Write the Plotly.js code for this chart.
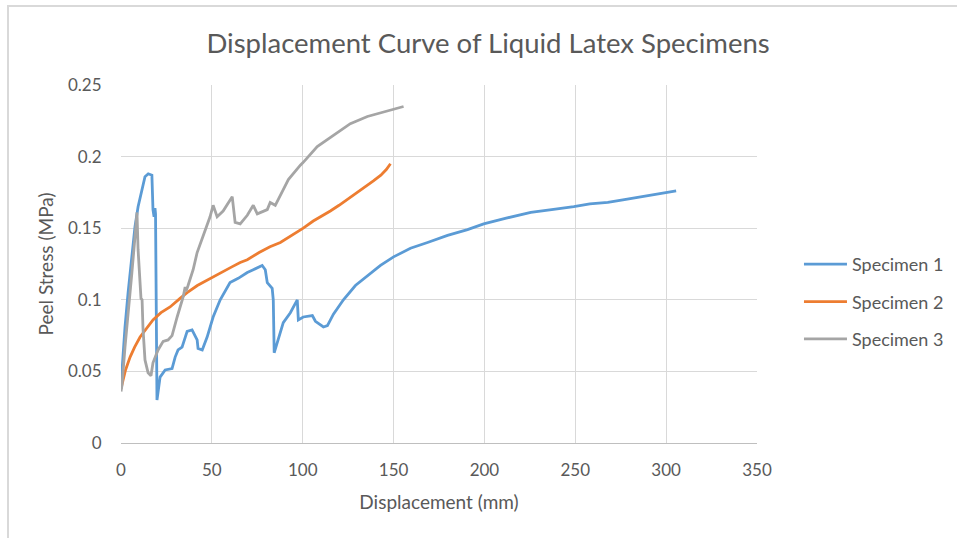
<!DOCTYPE html>
<html>
<head>
<meta charset="utf-8">
<script src="https://cdn.plot.ly/plotly-3.0.1.min.js"></script>
<style>
  html, body { margin: 0; padding: 0; background: #fff; }
  #wrap { position: relative; width: 957px; height: 538px; }
  #chart { width: 957px; height: 538px; }
  #frame { position: absolute; left: 7px; top: 5px; width: 950px; height: 533px;
           border-left: 2px solid #d9d9d9; border-top: 2px solid #d9d9d9;
           box-sizing: border-box; pointer-events: none; }
</style>
</head>
<body>
<div id="wrap">
  <div id="chart"></div>
  <div id="frame"></div>
</div>
<script>
const seriesNames = ["Specimen 1", "Specimen 2", "Specimen 3"];

const x1 = [0, 1, 2.2, 3.9, 6, 7.7, 9.4, 11.6, 13.2, 15, 17, 17.6, 18.2, 18.7, 19, 19.8, 21.5, 24.3, 28.1, 29.8, 31.4, 33.6, 36.4, 39.1, 41.9, 42.4, 44.7, 47.4, 50.7, 54.6, 60, 64.5, 69.5, 72.8, 77.7, 79.4, 80.5, 83.2, 83.8, 84.3, 86, 89.3, 93.2, 97, 97.6, 100.3, 105.3, 107, 111.4, 113.6, 116.9, 122.4, 129, 135.6, 142.8, 150, 159.3, 168.7, 179.7, 190.7, 199.6, 212, 225.5, 237, 249.2, 258, 267.9, 277, 286, 296, 305.5];
const y1 = [0.04, 0.06, 0.081, 0.105, 0.128, 0.151, 0.165, 0.177, 0.186, 0.188, 0.187, 0.163, 0.158, 0.164, 0.160, 0.030, 0.046, 0.051, 0.052, 0.060, 0.065, 0.067, 0.078, 0.079, 0.072, 0.066, 0.065, 0.074, 0.088, 0.100, 0.112, 0.115, 0.119, 0.121, 0.124, 0.121, 0.112, 0.108, 0.100, 0.063, 0.070, 0.084, 0.091, 0.100, 0.086, 0.088, 0.089, 0.085, 0.081, 0.082, 0.090, 0.100, 0.110, 0.117, 0.124, 0.130, 0.136, 0.140, 0.145, 0.149, 0.153, 0.157, 0.161, 0.163, 0.165, 0.167, 0.168, 0.170, 0.172, 0.174, 0.176];

const x2 = [0, 1.1, 2.5, 5, 7.5, 10.5, 14, 17.6, 22, 27, 32.5, 36.4, 42, 49, 55, 61, 65.6, 69.5, 76, 82, 87.7, 94, 100.3, 105.8, 110, 115.2, 120, 124.6, 127.9, 132, 135.6, 138.9, 143, 146, 148.3];
const y2 = [0.038, 0.044, 0.051, 0.060, 0.067, 0.074, 0.080, 0.086, 0.091, 0.095, 0.101, 0.105, 0.110, 0.115, 0.119, 0.123, 0.126, 0.128, 0.133, 0.137, 0.140, 0.145, 0.150, 0.155, 0.158, 0.162, 0.166, 0.170, 0.173, 0.177, 0.180, 0.183, 0.187, 0.191, 0.195];

const x3 = [0, 0.5, 2.2, 3.9, 6, 7.7, 8.8, 9.4, 10.5, 11, 11.6, 12.1, 13.2, 14.9, 16.5, 17.6, 20.4, 23.2, 25.9, 28.1, 30.9, 32.5, 34.2, 35.3, 35.8, 36.9, 39.7, 41.9, 45.2, 49, 50.7, 52.9, 56.2, 60.1, 61.2, 62.8, 65.6, 69.5, 72.8, 75, 80.5, 82.1, 84.9, 89.3, 92.1, 98.7, 100.3, 108, 116.9, 126.2, 135.6, 144.4, 150, 155.5];
const y3 = [0.036, 0.040, 0.067, 0.093, 0.119, 0.144, 0.161, 0.135, 0.105, 0.101, 0.100, 0.080, 0.058, 0.049, 0.047, 0.056, 0.065, 0.071, 0.072, 0.075, 0.088, 0.095, 0.102, 0.109, 0.106, 0.110, 0.121, 0.133, 0.145, 0.158, 0.166, 0.158, 0.162, 0.170, 0.172, 0.154, 0.153, 0.159, 0.166, 0.160, 0.163, 0.168, 0.166, 0.177, 0.184, 0.194, 0.196, 0.207, 0.215, 0.223, 0.228, 0.231, 0.233, 0.235];

const xTicks = [0, 50, 100, 150, 200, 250, 300, 350];
const yTicks = [0, 0.05, 0.1, 0.15, 0.2, 0.25];
const yTickLabels = ["0", "0.05", "0.1", "0.15", "0.2", "0.25"];

const colors = ["#5B9BD5", "#ED7D31", "#A5A5A5"];
const xs = [x1, x2, x3];
const ys = [y1, y2, y3];

const traces = seriesNames.map((n, i) => ({
  type: "scatter", mode: "lines", name: n, x: xs[i], y: ys[i],
  legendgroup: "g" + i,
  line: { color: colors[i], width: 2.8 }
}));

const fontFam = "Lato, 'Open Sans', sans-serif";
const layout = {
  width: 957, height: 538,
  margin: { l: 121, r: 200, t: 85, b: 95, autoexpand: false },
  paper_bgcolor: "#fff", plot_bgcolor: "#fff",
  font: { family: fontFam, color: "#595959", size: 17 },
  title: { text: "Displacement Curve of Liquid Latex Specimens",
           font: { family: fontFam, size: 27.5, color: "#595959" },
           x: 0.51, xanchor: "center", y: 0.92, yanchor: "middle" },
  xaxis: {
    range: [0, 350], tickvals: xTicks, ticktext: xTicks.map(String),
    showgrid: true, gridcolor: "#d9d9d9", gridwidth: 1,
    showline: true, linecolor: "#bfbfbf", linewidth: 1,
    zeroline: false, ticks: "outside", ticklen: 12, tickcolor: "rgba(0,0,0,0)",
    tickfont: { size: 17, color: "#595959" },
    title: { text: "Displacement (mm)", font: { size: 19, color: "#595959" }, standoff: 16 }
  },
  yaxis: {
    range: [0, 0.25], tickvals: yTicks, ticktext: yTickLabels,
    showgrid: true, gridcolor: "#d9d9d9", gridwidth: 1,
    showline: false, zeroline: false,
    ticks: "outside", ticklen: 15, tickcolor: "rgba(0,0,0,0)",
    tickfont: { size: 17, color: "#595959" },
    title: { text: "Peel Stress (MPa)", font: { size: 19, color: "#595959" }, standoff: 9 }
  },
  showlegend: true,
  legend: { x: 1.066, xanchor: "left", y: 0.394, yanchor: "middle",
            font: { size: 18, color: "#595959" }, itemwidth: 43,
            tracegroupgap: 11, bgcolor: "rgba(0,0,0,0)" }
};

Plotly.newPlot("chart", traces, layout, { staticPlot: true, displayModeBar: false });
</script>
</body>
</html>
